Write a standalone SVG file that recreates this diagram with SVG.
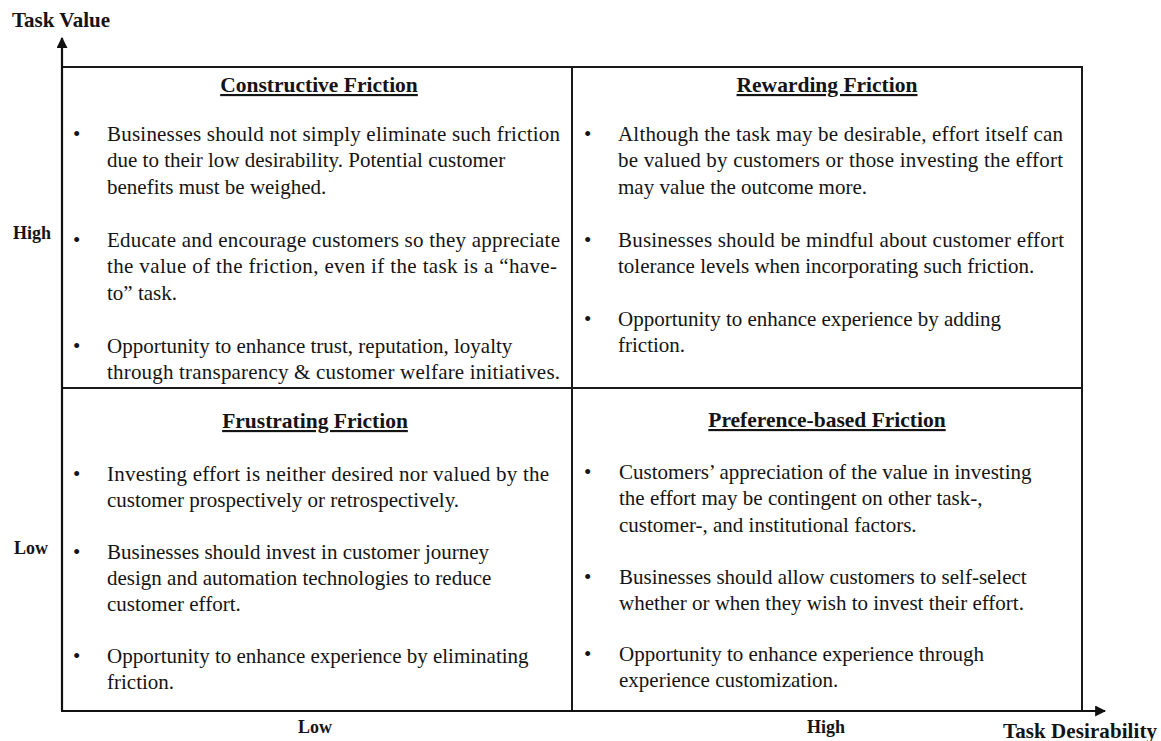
<svg xmlns="http://www.w3.org/2000/svg" width="1161" height="741" viewBox="0 0 1161 741">
  <style>
    .body { font-family: "Liberation Serif", "Times New Roman", serif; font-size: 21px; fill: #141414; }
    .title { font-family: "Liberation Serif", "Times New Roman", serif; font-size: 21.5px; font-weight: bold; fill: #141414; text-decoration: underline; }
    .axis-label { font-family: "Liberation Serif", "Times New Roman", serif; font-size: 21px; font-weight: bold; fill: #141414; }
    .tick-label { font-family: "Liberation Serif", "Times New Roman", serif; font-size: 18px; font-weight: bold; fill: #141414; }
    .frame { fill: none; stroke: #1a1a1a; stroke-width: 2; }
    .axis { stroke: #111; stroke-width: 2.2; fill: none; }
  </style>
  <defs>
    <marker id="arrow" viewBox="0 0 10 10" refX="9" refY="5" markerWidth="5" markerHeight="5" orient="auto" markerUnits="strokeWidth">
      <path d="M0,0 L10,5 L0,10 z" fill="#111"/>
    </marker>
  </defs>
  <rect width="1161" height="741" fill="#ffffff"/>

  <!-- matrix frame, dividers and axes -->
  <g id="connectors">
    <rect class="frame" x="62" y="67" width="1020" height="644"/>
    <line class="frame" x1="572" y1="67" x2="572" y2="711"/>
    <line class="frame" x1="62" y1="388" x2="1082" y2="388"/>
    <line class="axis" x1="62" y1="711" x2="62" y2="38" marker-end="url(#arrow)"/>
    <line class="axis" x1="62" y1="711" x2="1105" y2="711" marker-end="url(#arrow)"/>
  </g>

  <!-- axis labels -->
  <g id="axis-labels">
    <text class="axis-label" x="12" y="27" textLength="98" lengthAdjust="spacing">Task Value</text>
    <text class="tick-label" x="13" y="239">High</text>
    <text class="tick-label" x="14" y="554">Low</text>
    <text class="tick-label" x="315" y="733" text-anchor="middle">Low</text>
    <text class="tick-label" x="826" y="733" text-anchor="middle">High</text>
    <text class="axis-label" x="1003" y="738" textLength="154" lengthAdjust="spacing">Task Desirability</text>
  </g>

  <!-- top-left quadrant -->
  <g id="constructive-friction">
    <text class="title" x="319" y="92" text-anchor="middle">Constructive Friction</text>
    <text class="body" x="73" y="141">•</text>
    <text class="body" x="107" y="141" textLength="453" lengthAdjust="spacing">Businesses should not simply eliminate such friction</text>
    <text class="body" x="107" y="167">due to their low desirability. Potential customer</text>
    <text class="body" x="107" y="194">benefits must be weighed.</text>
    <text class="body" x="73" y="247">•</text>
    <text class="body" x="107" y="247" textLength="453" lengthAdjust="spacing">Educate and encourage customers so they appreciate</text>
    <text class="body" x="107" y="273" textLength="450" lengthAdjust="spacing">the value of the friction, even if the task is a “have-</text>
    <text class="body" x="107" y="300">to”  task.</text>
    <text class="body" x="73" y="353">•</text>
    <text class="body" x="107" y="353">Opportunity to enhance trust, reputation, loyalty</text>
    <text class="body" x="107" y="379" textLength="453" lengthAdjust="spacing">through transparency &amp; customer welfare initiatives.</text>
  </g>

  <!-- top-right quadrant -->
  <g id="rewarding-friction">
    <text class="title" x="827" y="92" text-anchor="middle">Rewarding Friction</text>
    <text class="body" x="584" y="141">•</text>
    <text class="body" x="618" y="141" textLength="445" lengthAdjust="spacing">Although the task may be desirable, effort itself can</text>
    <text class="body" x="618" y="167" textLength="445" lengthAdjust="spacing">be valued by customers or those investing the effort</text>
    <text class="body" x="618" y="194">may value the outcome more.</text>
    <text class="body" x="584" y="247">•</text>
    <text class="body" x="618" y="247" textLength="446" lengthAdjust="spacing">Businesses should be mindful about customer effort</text>
    <text class="body" x="618" y="273">tolerance levels when incorporating such friction.</text>
    <text class="body" x="584" y="326">•</text>
    <text class="body" x="618" y="326">Opportunity to enhance experience by adding</text>
    <text class="body" x="618" y="352">friction.</text>
  </g>

  <!-- bottom-left quadrant -->
  <g id="frustrating-friction">
    <text class="title" x="315" y="428" text-anchor="middle">Frustrating Friction</text>
    <text class="body" x="73" y="481">•</text>
    <text class="body" x="107" y="481" textLength="442" lengthAdjust="spacing">Investing effort is neither desired nor valued by the</text>
    <text class="body" x="107" y="507">customer prospectively or retrospectively.</text>
    <text class="body" x="73" y="559">•</text>
    <text class="body" x="107" y="559">Businesses should invest in customer journey</text>
    <text class="body" x="107" y="585">design and automation technologies to reduce</text>
    <text class="body" x="107" y="611">customer effort.</text>
    <text class="body" x="73" y="663">•</text>
    <text class="body" x="107" y="663">Opportunity to enhance experience by eliminating</text>
    <text class="body" x="107" y="689">friction.</text>
  </g>

  <!-- bottom-right quadrant -->
  <g id="preference-based-friction">
    <text class="title" x="827" y="427" text-anchor="middle">Preference-based Friction</text>
    <text class="body" x="584" y="479">•</text>
    <text class="body" x="619" y="479">Customers’ appreciation of the value in investing</text>
    <text class="body" x="619" y="505">the effort may be contingent on other task-,</text>
    <text class="body" x="619" y="532">customer-, and institutional factors.</text>
    <text class="body" x="584" y="584">•</text>
    <text class="body" x="619" y="584">Businesses should allow customers to self-select</text>
    <text class="body" x="619" y="610">whether or when they wish to invest their effort.</text>
    <text class="body" x="584" y="661">•</text>
    <text class="body" x="619" y="661">Opportunity to enhance experience through</text>
    <text class="body" x="619" y="687">experience customization.</text>
  </g>
</svg>
